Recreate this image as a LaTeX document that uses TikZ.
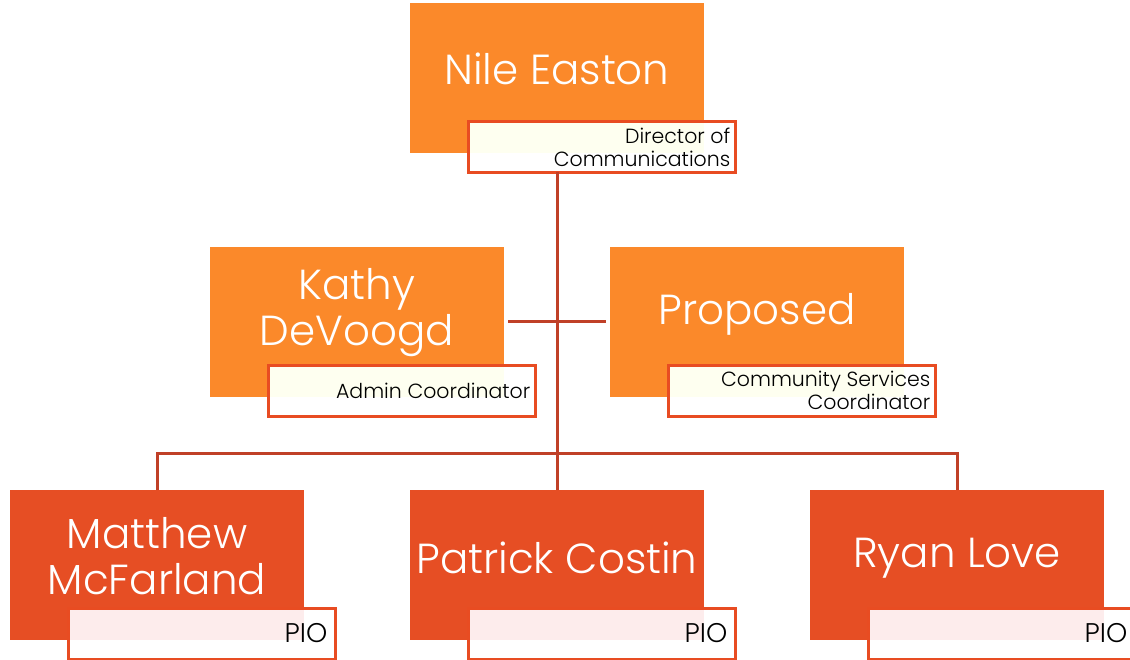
\documentclass[tikz,border=0pt]{standalone}
\usepackage{fontspec}
\setmainfont{Poppins Light}
\definecolor{topor}{RGB}{251,137,42}
\definecolor{botor}{RGB}{230,78,36}
\definecolor{bord}{RGB}{232,76,34}
\definecolor{conn}{RGB}{192,64,40}
\definecolor{toptint}{RGB}{254,255,240}
\definecolor{bottint}{RGB}{253,236,236}
\tikzset{
  box/.style={rectangle, minimum width=294pt, minimum height=150pt, inner sep=0pt, outer sep=0pt},
  topbox/.style={box, fill=topor},
  botbox/.style={box, fill=botor},
  namet/.style={text=white, font=\fontsize{42}{46}\selectfont, align=center, inner sep=0pt},
  titlebox/.style={rectangle, minimum width=267pt, minimum height=51pt, inner sep=0pt, outer sep=0pt, draw=bord, line width=3pt, fill=white},
  titlet/.style={text=black, font=\fontsize{20.5}{23}\selectfont, align=right, anchor=east, inner sep=0pt},
  piot/.style={text=black, font=\fontsize{27}{30}\selectfont, anchor=east, inner sep=0pt},
  connline/.style={draw=conn, line width=3pt},
}
\begin{document}
\begin{tikzpicture}[x=1pt,y=-1pt]
\useasboundingbox (0,0) rectangle (1130,660);
\fill[white] (0,0) rectangle (1130,660);
% boxes
\node[topbox] (ne) at (557,78) {};
\node[topbox] (kd) at (357,322) {};
\node[topbox] (pr) at (757,322) {};
\node[botbox] (mm) at (157,565) {};
\node[botbox] (pc) at (557,565) {};
\node[botbox] (rl) at (957,565) {};
\node[titlebox] (ner) at (602,147) {};
% connectors
\coordinate (hb) at (557,453);
\draw[connline] (ner.south -| ne.south) -- (pc.north);
\draw[connline] (mm.north) -- (mm.north |- hb) -| (rl.north);
\draw[connline, shorten <=4pt, shorten >=4pt] (kd.east) -- (pr.west);
% title boxes
\node[titlebox] (kdr) at (402,390.5) {};
\node[titlebox] (prr) at (802,390.5) {};
\node[titlebox] (mmr) at (202,633.5) {};
\node[titlebox] (pcr) at (602,633.5) {};
\node[titlebox] (rlr) at (1002,633.5) {};
% tints
\fill[toptint] ([shift={(1.5,1.5)}]ner.north west) rectangle (ne.south east);
\fill[toptint] ([shift={(1.5,1.5)}]kdr.north west) rectangle (kd.south east);
\fill[toptint] ([shift={(1.5,1.5)}]prr.north west) rectangle (pr.south east);
\fill[bottint] ([shift={(1.5,1.5)}]mmr.north west) rectangle (mm.south east);
\fill[bottint] ([shift={(1.5,1.5)}]pcr.north west) rectangle (pc.south east);
\fill[bottint] ([shift={(1.5,1.5)}]rlr.north west) rectangle (rl.south east);
% names
\node[namet] (net) at (557,69) {Nile Easton};
\node[namet] (kdt) at (357,313) {Kathy\\DeVoogd};
\node[namet] (prt) at (757,314) {Proposed};
\node[namet] (mmt) at (157,556) {Matthew\\McFarland};
\node[namet] (pct) at (557,558) {Patrick Costin};
\node[namet] (rlt) at (957,558) {Ryan Love};
% titles
\node[titlet] (nel) at ([xshift=-5pt]ner.east) {Director of\\Communications};
\node[titlet] (kdl) at ([xshift=-5pt]kdr.east) {Admin Coordinator};
\node[titlet] (prl) at ([xshift=-5pt]prr.east) {Community Services\\Coordinator};
\node[piot] (mml) at ([xshift=-8pt]mmr.east) {PIO};
\node[piot] (pcl) at ([xshift=-8pt]pcr.east) {PIO};
\node[piot] (rll) at ([xshift=-8pt]rlr.east) {PIO};
\end{tikzpicture}
\end{document}
